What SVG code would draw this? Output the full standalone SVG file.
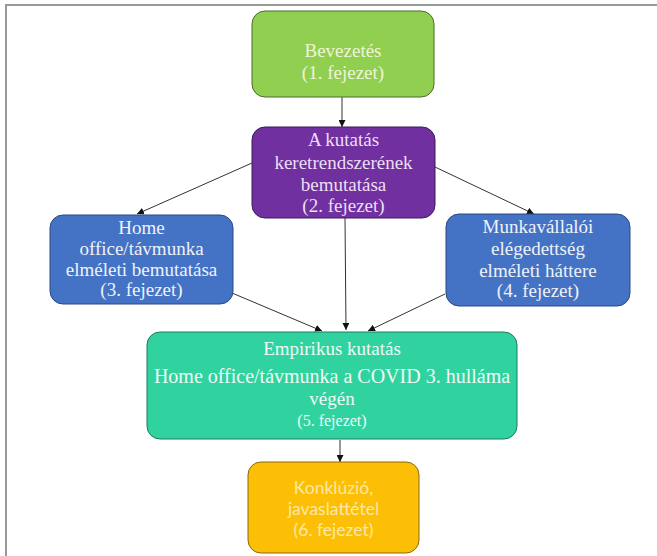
<svg xmlns="http://www.w3.org/2000/svg" width="657" height="556" viewBox="0 0 657 556">
<defs>
<marker id="ah" viewBox="0 0 10 10" refX="10" refY="5" markerWidth="7" markerHeight="7" markerUnits="userSpaceOnUse" orient="auto">
<path d="M0,0 L10,5 L0,10 Z" fill="#111"/>
</marker>
<style>
.t{font-family:"Liberation Serif","Times New Roman",serif;font-size:19px;text-anchor:middle}
.s{font-family:Lato,"Open Sans","Liberation Sans",sans-serif;font-size:17.5px;text-anchor:middle;fill:#fce8a6}
.c{stroke:#333;stroke-width:1;fill:none;marker-end:url(#ah)}
</style>
</defs>
<rect width="657" height="556" fill="#fff"/>
<path d="M6,556 V5 H657" fill="none" stroke="#999" stroke-width="2"/>
<g id="connectors">
<line class="c" x1="342" y1="97" x2="342" y2="127"/>
<line class="c" x1="252" y1="163" x2="137" y2="214"/>
<line class="c" x1="435" y1="167" x2="534" y2="214"/>
<line class="c" x1="345" y1="218" x2="346" y2="330"/>
<line class="c" x1="232" y1="293" x2="322" y2="331"/>
<line class="c" x1="445" y1="294" x2="368" y2="331"/>
<line class="c" x1="340" y1="440" x2="340" y2="462"/>
</g>
<g id="n1">
<rect x="252" y="11" width="182" height="86" rx="13" fill="#91cf50" stroke="#4d6b2e" stroke-width="1"/>
<text class="t" fill="#f0f4d6"><tspan x="343" y="57">Bevezetés</tspan><tspan x="343" y="79">(1. fejezet)</tspan></text>
</g>
<g id="n2">
<rect x="252" y="127" width="183" height="91" rx="13" fill="#7030a0" stroke="#3e1a5a" stroke-width="1"/>
<text class="t" fill="#ecdff4"><tspan x="343.5" y="146">A kutatás</tspan><tspan x="343.5" y="169">keretrendszerének</tspan><tspan x="343.5" y="191">bemutatása</tspan><tspan x="343.5" y="212">(2. fejezet)</tspan></text>
</g>
<g id="n3">
<rect x="50" y="215" width="183" height="89" rx="13" fill="#4472c4" stroke="#2a4a80" stroke-width="1"/>
<text class="t" fill="#eef2fa"><tspan x="141.5" y="234">Home</tspan><tspan x="141.5" y="255">office/távmunka</tspan><tspan x="141.5" y="276">elméleti bemutatása</tspan><tspan x="141.5" y="296">(3. fejezet)</tspan></text>
</g>
<g id="n4">
<rect x="446" y="214" width="184" height="92" rx="13" fill="#4472c4" stroke="#2a4a80" stroke-width="1"/>
<text class="t" fill="#eef2fa"><tspan x="538" y="233">Munkavállalói</tspan><tspan x="538" y="255">elégedettség</tspan><tspan x="538" y="277">elméleti háttere</tspan><tspan x="538" y="297">(4. fejezet)</tspan></text>
</g>
<g id="n5">
<rect x="147" y="332" width="370" height="107" rx="13" fill="#30d3a0" stroke="#1e7a5e" stroke-width="1"/>
<text class="t" fill="#effaf5"><tspan x="332" y="355">Empirikus kutatás</tspan><tspan x="332" y="383" font-size="20">Home office/távmunka a COVID 3. hulláma</tspan><tspan x="332" y="405">végén</tspan><tspan x="332" y="426" font-size="16">(5. fejezet)</tspan></text>
</g>
<g id="n6">
<rect x="248" y="462" width="171" height="91" rx="13" fill="#fdbf05" stroke="#8a6a10" stroke-width="1"/>
<text class="s"><tspan x="333.5" y="494">Konklúzió,</tspan><tspan x="333.5" y="515">javaslattétel</tspan><tspan x="333.5" y="536">(6. fejezet)</tspan></text>
</g>
</svg>
